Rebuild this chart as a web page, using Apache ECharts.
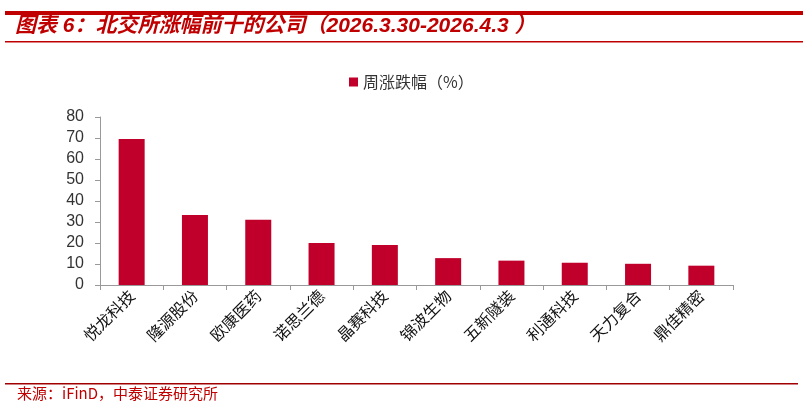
<!DOCTYPE html>
<html>
<head>
<meta charset="utf-8">
<script src="https://cdn.jsdelivr.net/npm/echarts@6/dist/echarts.min.js"></script>
<style>html,body{margin:0;padding:0;background:#fff;}#c{width:803px;height:406px;}</style>
</head>
<body>
<div id="c"></div>
<script>
const categories = ['悦龙科技','隆源股份','欧康医药','诺思兰德','晶赛科技','锦波生物','五新隧装','利通科技','天力复合','鼎佳精密'];
const weeklyChange = [69.5, 33.3, 31.1, 20.0, 19.0, 12.8, 11.6, 10.6, 10.1, 9.2];
const yTicks = [0, 10, 20, 30, 40, 50, 60, 70, 80];
const seriesName = '周涨跌幅（%）';
const titleText = '图表 6：北交所涨幅前十的公司（2026.3.30-2026.4.3 ）';
const sourceText = '来源：iFinD，中泰证券研究所';

const chart = echarts.init(document.getElementById('c'));
chart.setOption({
  animation: false,
  backgroundColor: '#fff',
  graphic: [
    { type: 'rect', shape: { x: 5, y: 11, width: 798, height: 4 }, style: { fill: '#c00000' } },
    { type: 'rect', shape: { x: 5, y: 41, width: 798, height: 1.5 }, style: { fill: '#c00000' } },
    { type: 'text', left: 15, top: 16, style: { text: titleText, fill: '#c00000', font: 'italic bold 21px "Liberation Sans", Arial, "Noto Sans CJK SC", sans-serif' } },
    { type: 'rect', shape: { x: 5, y: 383, width: 793, height: 1.5 }, style: { fill: '#a00000' } },
    { type: 'text', left: 17, top: 386, style: { text: sourceText, fill: '#c00000', font: '15px "Noto Sans CJK SC", sans-serif' } }
  ],
  legend: {
    top: 69, left: 344,
    itemWidth: 9, itemHeight: 9, itemGap: 5,
    icon: 'rect',
    textStyle: { fontSize: 16, color: '#333', fontFamily: '"Noto Sans CJK SC", sans-serif' },
    data: [seriesName]
  },
  grid: { left: 100, right: 70, top: 117, bottom: 121, containLabel: false },
  xAxis: {
    type: 'category',
    data: categories,
    axisLine: { lineStyle: { color: '#999', width: 1 } },
    axisTick: { show: true, alignWithLabel: false, length: 5, lineStyle: { color: '#999' } },
    axisLabel: { rotate: 45, fontSize: 16, color: '#111', margin: 8, interval: 0, fontFamily: '"Noto Sans CJK SC", sans-serif' }
  },
  yAxis: {
    type: 'value', min: 0, max: 80, interval: 10,
    axisLine: { show: true, lineStyle: { color: '#999', width: 1 } },
    axisTick: { show: true, inside: false, length: 5, lineStyle: { color: '#999' } },
    splitLine: { show: false },
    axisLabel: { fontSize: 16, color: '#333', margin: 16, fontFamily: 'Arial, "Liberation Sans", sans-serif',
      formatter: v => yTicks.includes(v) ? String(v) : '' }
  },
  series: [{
    name: seriesName,
    type: 'bar',
    data: weeklyChange,
    barWidth: 26,
    itemStyle: { color: '#c0002b' }
  }]
});
</script>
</body>
</html>
